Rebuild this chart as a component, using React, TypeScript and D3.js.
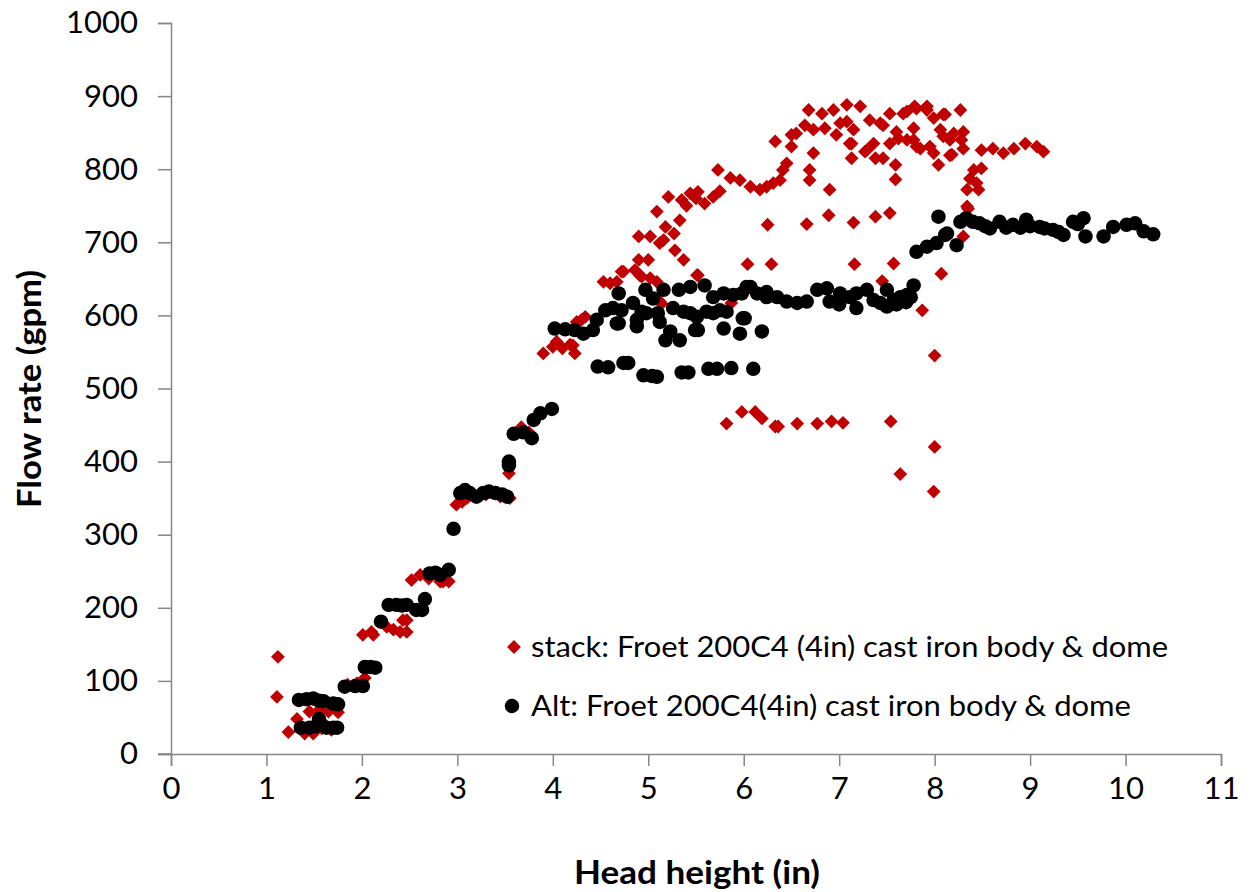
import React, { useEffect, useRef } from 'react';
import * as d3 from 'd3';

// [head height (in), flow rate (gpm)]
const stackPoints: [number, number][] = [
  [1.12, 133], [1.11, 78], [1.23, 30], [1.32, 48], [1.4, 28], [1.49, 28], [1.45, 58], [1.55, 60],
  [1.65, 58], [1.75, 57], [1.58, 35], [1.68, 33],
  [1.85, 95], [1.95, 97], [2.03, 104], [2.01, 163], [2.1, 167], [2.12, 163], [2.26, 174], [2.33, 170],
  [2.4, 167], [2.47, 167], [2.47, 183], [2.43, 183],
  [2.52, 238], [2.61, 245], [2.7, 240], [2.82, 236], [2.91, 236], [2.85, 236],
  [2.99, 341], [3.05, 345], [3.1, 350], [3.3, 355], [3.45, 352], [3.55, 350], [3.54, 384], [3.67, 447], [3.75, 440],
  [3.9, 548], [4.0, 557], [4.05, 562], [4.1, 555], [4.21, 559], [4.23, 548], [4.3, 594], [4.34, 598], [4.25, 591],
  [4.04, 564], [4.18, 560],
  [4.53, 646], [4.6, 644], [4.67, 646], [4.72, 660], [4.74, 660], [4.86, 662], [4.91, 655], [4.9, 676],
  [5.0, 676], [5.02, 651], [5.09, 646], [4.9, 708], [5.02, 708], [5.12, 699], [5.16, 703], [5.12, 619],
  [5.14, 616], [5.09, 742], [5.18, 721], [5.27, 712], [5.21, 762], [5.33, 730], [5.28, 689], [5.37, 676],
  [5.52, 655], [4.93, 653], [5.51, 655], [5.87, 617],
  [5.35, 758], [5.44, 767], [5.52, 769], [5.59, 753], [5.68, 762], [5.75, 770], [5.4, 750], [5.5, 760],
  [5.73, 799], [5.86, 788], [5.96, 785], [6.07, 776], [6.17, 772], [6.24, 776], [6.31, 781], [6.38, 785],
  [6.41, 799], [6.45, 808], [6.33, 838], [6.5, 847], [6.55, 849], [6.5, 831], [6.68, 881], [6.64, 860],
  [6.73, 854], [6.73, 822], [6.69, 799], [6.69, 785], [6.85, 856], [6.82, 876], [6.94, 881], [7.08, 888],
  [7.22, 886], [7.01, 863], [7.15, 854], [6.97, 847], [7.13, 835], [7.13, 815], [7.29, 826], [7.36, 835],
  [7.46, 815], [7.32, 867], [7.43, 863], [7.53, 876], [7.67, 876], [7.81, 883], [7.92, 881], [7.99, 870],
  [8.11, 875], [8.27, 881], [7.6, 851], [7.71, 840], [7.81, 831], [7.95, 831], [8.09, 845], [8.2, 849],
  [8.28, 840], [7.59, 806], [7.59, 786], [8.04, 806], [8.18, 820], [6.9, 772],
  [7.08, 865], [7.46, 860], [7.78, 856], [8.06, 854], [8.3, 851], [7.11, 835], [7.27, 824], [7.53, 835],
  [7.62, 842], [7.78, 840], [7.85, 828], [7.99, 822], [8.16, 840], [8.16, 819], [8.3, 828], [7.38, 815],
  [7.71, 879], [7.79, 886], [7.92, 886], [8.09, 875],
  [8.49, 826], [8.61, 828], [8.72, 822], [8.83, 828], [8.95, 835], [9.07, 831], [9.14, 824], [8.41, 799],
  [8.49, 801], [8.37, 787], [8.44, 781], [8.34, 772], [8.46, 772], [8.35, 746], [8.3, 708], [8.34, 749],
  [6.25, 724], [6.66, 725], [6.89, 737], [7.15, 727], [7.38, 735], [7.53, 740], [6.04, 670], [6.29, 670],
  [7.16, 670], [7.57, 671], [7.45, 647], [8.07, 657], [7.87, 607], [8.0, 545],
  [5.82, 452], [5.98, 468], [6.12, 468], [6.19, 459], [6.33, 448], [6.36, 448], [6.56, 452], [6.77, 452],
  [6.92, 455], [7.04, 453], [7.54, 455], [8.0, 420], [7.64, 383], [7.99, 359],
];

const altPoints: [number, number][] = [
  [1.34, 74], [1.42, 75], [1.49, 76], [1.55, 73], [1.6, 72], [1.7, 69], [1.75, 68], [1.36, 36],
  [1.45, 36], [1.52, 38], [1.58, 40], [1.63, 36], [1.7, 36], [1.74, 36], [1.55, 48],
  [1.82, 92], [1.93, 93], [2.01, 93], [2.03, 119], [2.09, 119], [2.14, 118], [2.2, 181], [2.28, 204],
  [2.36, 204], [2.42, 203], [2.47, 204], [2.57, 197], [2.63, 197], [2.66, 212], [2.71, 247], [2.77, 248],
  [2.82, 245], [2.91, 252],
  [2.96, 308], [3.03, 357], [3.08, 361], [3.13, 357], [3.2, 352], [3.27, 357], [3.33, 359], [3.4, 357],
  [3.47, 355], [3.52, 352], [3.54, 395], [3.54, 400], [3.59, 438], [3.69, 440], [3.78, 432], [3.8, 457],
  [3.87, 466], [3.99, 472],
  [4.02, 582], [4.13, 581], [4.23, 580], [4.32, 575], [4.42, 580], [4.46, 594], [4.55, 607], [4.63, 610],
  [4.69, 589], [4.72, 607], [4.84, 617], [4.88, 594], [4.93, 605], [4.98, 603], [4.69, 630], [4.97, 635],
  [5.05, 623], [5.16, 635], [5.1, 603], [5.12, 591], [5.23, 578], [5.18, 566], [5.33, 566], [5.26, 610],
  [5.37, 605], [5.44, 603], [5.51, 598], [5.52, 580], [5.61, 605], [5.68, 603], [5.75, 607], [5.82, 605],
  [5.32, 635], [5.44, 639], [5.59, 641], [5.68, 625], [5.79, 630], [5.89, 628], [5.98, 630], [5.79, 582],
  [5.96, 575], [5.99, 596], [4.67, 589], [4.88, 585], [5.49, 580],
  [4.47, 530], [4.58, 529], [4.74, 535], [4.79, 535], [4.95, 518], [5.04, 517], [5.09, 516], [5.35, 522],
  [5.42, 522], [5.63, 527], [5.72, 527], [5.87, 528], [6.1, 527],
  [6.03, 639], [6.14, 630], [6.24, 625], [6.35, 625], [6.45, 619], [6.56, 617], [6.66, 619], [6.77, 635],
  [6.87, 637], [6.9, 619], [7.01, 630], [7.11, 625], [7.18, 630], [7.18, 610], [7.29, 635], [7.36, 621],
  [7.43, 617], [7.5, 635], [7.57, 621], [7.64, 625], [7.71, 628], [7.78, 641], [6.01, 596], [6.19, 578],
  [6.07, 639], [6.24, 632], [7.0, 615], [7.5, 612], [7.6, 615], [7.7, 618], [7.75, 625],
  [7.81, 687], [7.92, 694], [8.02, 699], [8.13, 712], [8.23, 696], [8.04, 735], [8.11, 710], [8.27, 728],
  [8.33, 733], [8.47, 726], [8.58, 719], [8.68, 728], [8.82, 724], [8.96, 731], [9.1, 721], [9.24, 717],
  [9.35, 710], [9.45, 728], [9.56, 733], [9.58, 708], [9.77, 708], [9.87, 721], [10.01, 724], [10.1, 726],
  [10.19, 715], [10.29, 711], [8.4, 728], [8.53, 722], [8.75, 720], [8.9, 720], [9.0, 722], [9.15, 719],
  [9.3, 714], [9.5, 725],
];

const xTicks = [0, 1, 2, 3, 4, 5, 6, 7, 8, 9, 10, 11];
const yTicks = [0, 100, 200, 300, 400, 500, 600, 700, 800, 900, 1000];

const seriesNames = [
  'stack: Froet 200C4 (4in) cast iron body & dome',
  'Alt: Froet 200C4(4in) cast iron body & dome',
];

const W = 1251;
const H = 892;
const FONT = 'Lato, "Open Sans", sans-serif';
const RED = '#c00000';
const AXIS = '#868686';

export default function App() {
  const ref = useRef<SVGSVGElement>(null);

  useEffect(() => {
    if (!ref.current) return;
    const svg = d3.select(ref.current);
    svg.selectAll('*').remove();

    const x = d3.scaleLinear().domain([0, 11]).range([171, 1221]);
    const y = d3.scaleLinear().domain([0, 1000]).range([754, 23]);

    // axes
    const yAxis = svg.append('g').attr('transform', `translate(${x(0)},0)`)
      .call(d3.axisLeft(y).tickValues(yTicks).tickFormat(d3.format('d')).tickSize(13).tickPadding(20));
    const xAxis = svg.append('g').attr('transform', `translate(0,${y(0)})`)
      .call(d3.axisBottom(x).tickValues(xTicks).tickFormat(d3.format('d')).tickSize(12).tickPadding(11));
    [yAxis, xAxis].forEach(a => {
      a.select('.domain').attr('stroke', AXIS).attr('stroke-width', 1.5);
      a.selectAll('.tick line').attr('stroke', AXIS).attr('stroke-width', 1.5);
      a.selectAll('.tick text').attr('fill', '#000').style('font-family', FONT).style('font-size', '31px');
    });
    // x axis extends left to meet the y tick marks
    svg.append('line')
      .attr('x1', x(0) - 13).attr('x2', x(0))
      .attr('y1', y(0)).attr('y2', y(0))
      .attr('stroke', AXIS).attr('stroke-width', 1.5);

    const diamond = d3.symbol().type(d3.symbolSquare).size(95)();
    const circle = d3.symbol().type(d3.symbolCircle).size(165)();

    svg.append('g').selectAll('path')
      .data(stackPoints)
      .enter()
      .append('path')
      .attr('d', diamond)
      .attr('transform', d => `translate(${x(d[0])},${y(d[1])}) rotate(45)`)
      .attr('fill', RED);

    svg.append('g').selectAll('path')
      .data(altPoints)
      .enter()
      .append('path')
      .attr('d', circle)
      .attr('transform', d => `translate(${x(d[0])},${y(d[1])})`)
      .attr('fill', '#000');

    // axis titles
    svg.append('text')
      .attr('x', 697).attr('y', 884)
      .attr('text-anchor', 'middle')
      .attr('textLength', 246).attr('lengthAdjust', 'spacingAndGlyphs')
      .style('font-family', FONT).style('font-size', '32px').style('font-weight', 'bold')
      .text('Head height (in)');

    svg.append('text')
      .attr('transform', 'translate(41,389) rotate(-90)')
      .attr('text-anchor', 'middle')
      .attr('textLength', 238).attr('lengthAdjust', 'spacingAndGlyphs')
      .style('font-family', FONT).style('font-size', '32px').style('font-weight', 'bold')
      .text('Flow rate (gpm)');

    // legend
    const legend = svg.append('g');
    legend.append('path').attr('d', diamond).attr('transform', 'translate(514,647) rotate(45)').attr('fill', RED);
    legend.append('path').attr('d', circle).attr('transform', 'translate(512,706)').attr('fill', '#000');
    legend.selectAll('text')
      .data(seriesNames)
      .enter()
      .append('text')
      .attr('x', 531)
      .attr('y', (_, i) => 657 + i * 59)
      .attr('textLength', (_, i) => (i === 0 ? 637 : 600))
      .attr('lengthAdjust', 'spacingAndGlyphs')
      .style('font-family', FONT).style('font-size', '29px')
      .text(d => d);
  }, []);

  return (
    <div style={{ position: 'absolute', left: 0, top: 0 }}>
      <svg ref={ref} width={W} height={H} style={{ display: 'block', background: '#fff' }} />
    </div>
  );
}
